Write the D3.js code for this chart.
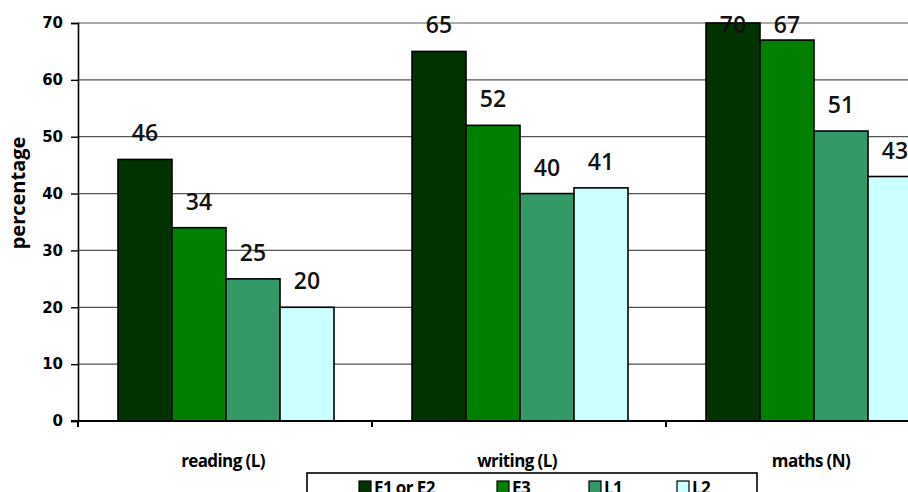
<!DOCTYPE html>
<html>
<head>
<meta charset="utf-8">
<script src="https://cdn.jsdelivr.net/npm/d3@7/dist/d3.min.js"></script>
<style>
  html, body { margin: 0; padding: 0; background: #fff; }
  svg { display: block; }
</style>
</head>
<body>
<svg id="chart" width="908" height="492"></svg>
<script>
// Subjects along the x axis
const categories = ["reading (L)", "writing (L)", "maths (N)"];
// Groups shown as bars within each subject
const seriesNames = ["E1 or E2", "E3", "L1", "L2"];
const seriesColors = ["#003300", "#008000", "#339966", "#ccffff"];
// Percentages per group, in the order of categories
const valuesE1E2 = [46, 65, 70];
const valuesE3 = [34, 52, 67];
const valuesL1 = [25, 40, 51];
const valuesL2 = [20, 41, 43];
const yTicks = [0, 10, 20, 30, 40, 50, 60, 70];
const yLabel = "percentage";

const seriesValues = [valuesE1E2, valuesE3, valuesL1, valuesL2];

const svg = d3.select("#chart");
const plotLeft = 78, plotTop = 23, plotBottom = 421;
const bandStep = 294;

const y = d3.scaleLinear().domain([0, 70]).range([plotBottom, plotTop]);
const x0 = d3.scaleBand().domain(categories)
  .range([plotLeft, plotLeft + bandStep * categories.length])
  .paddingInner(0).paddingOuter(0);
const x1 = d3.scaleBand().domain(seriesNames).range([40, 256]).padding(0);

// Horizontal gridlines
svg.append("g")
  .selectAll("line")
  .data(yTicks.filter(d => d > 0))
  .join("line")
  .attr("x1", plotLeft).attr("x2", 908)
  .attr("y1", d => y(d)).attr("y2", d => y(d))
  .attr("stroke", "#555").attr("stroke-width", 1.2);

// Bars
const groups = svg.append("g")
  .selectAll("g")
  .data(categories)
  .join("g")
  .attr("transform", d => `translate(${x0(d)},0)`);

groups.selectAll("rect")
  .data((c, ci) => seriesNames.map((s, si) => ({ s, si, v: seriesValues[si][ci] })))
  .join("rect")
  .attr("x", d => x1(d.s))
  .attr("y", d => y(d.v))
  .attr("width", x1.bandwidth())
  .attr("height", d => y(0) - y(d.v))
  .attr("fill", d => seriesColors[d.si])
  .attr("stroke", "#000")
  .attr("stroke-width", 1.6);

// Value labels above bars, kept inside the plot area
groups.selectAll("text.val")
  .data((c, ci) => seriesNames.map((s, si) => ({ s, si, v: seriesValues[si][ci] })))
  .join("text")
  .attr("class", "val")
  .attr("x", d => x1(d.s) + x1.bandwidth() / 2)
  .attr("y", d => Math.max(y(d.v) - 18, plotTop + 10))
  .attr("text-anchor", "middle")
  .attr("font-family", "'Open Sans', sans-serif")
  .attr("font-weight", 600)
  .attr("font-size", 23)
  .attr("fill", "#111")
  .text(d => d.v);

// Y axis
const yAxis = d3.axisLeft(y).tickValues(yTicks).tickSize(7).tickPadding(8);
const yg = svg.append("g").attr("transform", `translate(${plotLeft},0)`).call(yAxis);
yg.select(".domain").attr("stroke", "#000").attr("stroke-width", 1.6);
yg.selectAll(".tick line").attr("stroke", "#000").attr("stroke-width", 1.4);
yg.selectAll(".tick text")
  .attr("font-family", "'DejaVu Sans', sans-serif")
  .attr("font-weight", "bold")
  .attr("font-size", 15)
  .attr("fill", "#000");

// X axis with ticks at category boundaries
const xg = svg.append("g");
xg.append("line")
  .attr("x1", plotLeft - 7).attr("x2", 908)
  .attr("y1", plotBottom).attr("y2", plotBottom)
  .attr("stroke", "#000").attr("stroke-width", 1.8);
xg.selectAll("line.tk")
  .data(categories)
  .join("line")
  .attr("class", "tk")
  .attr("x1", d => x0(d)).attr("x2", d => x0(d))
  .attr("y1", plotBottom).attr("y2", plotBottom + 6)
  .attr("stroke", "#000").attr("stroke-width", 2);
xg.selectAll("text")
  .data(categories)
  .join("text")
  .attr("x", d => x0(d) + 145)
  .attr("y", 467)
  .attr("text-anchor", "middle")
  .attr("font-family", "'Open Sans', sans-serif")
  .attr("font-weight", "bold")
  .attr("font-size", 17)
  .attr("letter-spacing", -0.6)
  .attr("fill", "#000")
  .text(d => d);

// Y axis title
svg.append("text")
  .attr("transform", "translate(25,193) rotate(-90)")
  .attr("text-anchor", "middle")
  .attr("font-family", "'Open Sans', sans-serif")
  .attr("font-weight", "bold")
  .attr("font-size", 20)
  .attr("fill", "#000")
  .text(yLabel);

// Legend
const legend = svg.append("g");
legend.append("rect")
  .attr("x", 307).attr("y", 473)
  .attr("width", 450).attr("height", 40)
  .attr("fill", "#fff").attr("stroke", "#000").attr("stroke-width", 1.6);
const legendX = [359, 497, 589, 677];
const items = legend.selectAll("g")
  .data(seriesNames)
  .join("g")
  .attr("transform", (d, i) => `translate(${legendX[i]},481)`);
items.append("rect")
  .attr("width", 12).attr("height", 12)
  .attr("fill", (d, i) => seriesColors[i])
  .attr("stroke", "#000").attr("stroke-width", 1.2);
items.append("text")
  .attr("x", 15).attr("y", 13)
  .attr("font-family", "'Open Sans', sans-serif")
  .attr("font-weight", "bold")
  .attr("font-size", 17)
  .attr("letter-spacing", -0.6)
  .attr("fill", "#000")
  .text(d => d);
</script>
</body>
</html>
